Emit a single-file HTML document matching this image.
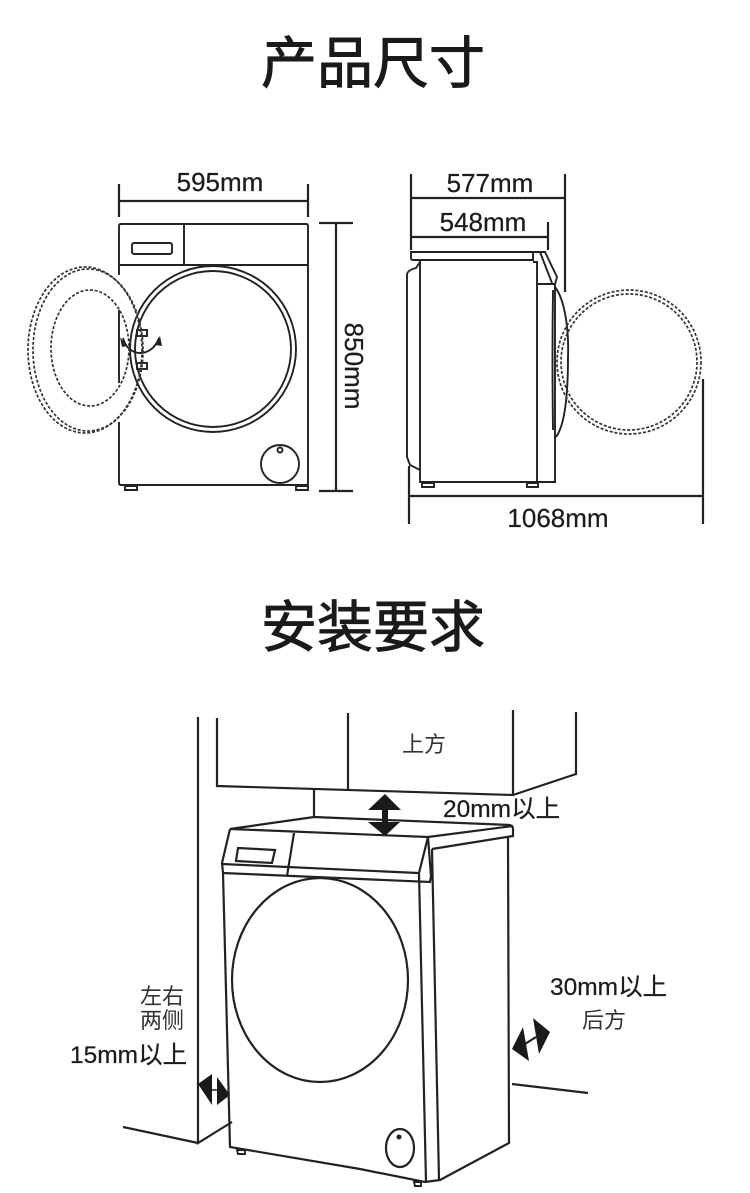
<!DOCTYPE html>
<html><head><meta charset="utf-8">
<style>
html,body{margin:0;padding:0;background:#fff}
svg{display:block;filter:blur(.35px)}
text{fill:#1c1c1c;font-family:"Liberation Sans","Noto Sans CJK SC",sans-serif}
.t{font-size:56px;font-weight:400;fill:#1a1a1a;stroke:#1a1a1a;stroke-width:.9}
.d{font-size:26px;stroke:#1c1c1c;stroke-width:.25}
.c{font-size:22px;fill:#333}
.l{fill:none;stroke:#222;stroke-width:1.9}
.n{fill:none;stroke:#222;stroke-width:2.2}
.h{fill:none;stroke:#333;stroke-width:1.7;stroke-dasharray:3 1.8}
</style></head><body>
<svg width="750" height="1193" viewBox="0 0 750 1193" xmlns="http://www.w3.org/2000/svg">
<rect width="750" height="1193" fill="#fff"/>
<text class="t" x="373" y="83" text-anchor="middle">产品尺寸</text>
<text class="t" x="373" y="647" text-anchor="middle">安装要求</text>

<!-- front view -->
<g class="l">
<path d="M119 275V226Q119 224 121 224H306Q308 224 308 226V483Q308 485 306 485H121Q119 485 119 483V422M119 383V310"/>
<path d="M119 265H308M184 224V265"/>
<rect x="132" y="243" width="40" height="11" rx="2"/>
<circle cx="213" cy="349" r="83"/><circle cx="213" cy="349" r="78"/>
<circle cx="280" cy="464" r="19"/><circle cx="280" cy="450" r="2.5"/>
<path d="M125 486H137V490H125ZM296 486H308V490H296Z"/>
<rect x="137" y="330" width="10" height="6"/><rect x="137" y="363" width="10" height="6"/>
<path d="M123 338C128 358 152 358 159 338"/>
</g>
<path d="M120 337L127 346L122 347ZM160 336L162 346L155 345Z" fill="#222"/>
<ellipse class="h" cx="85" cy="350" rx="57" ry="83"/>
<ellipse class="h" cx="88" cy="350" rx="55" ry="81"/>
<ellipse class="h" cx="90" cy="348" rx="39" ry="58"/>
<path class="n" d="M119 184V217M308 184V217M119 201H308M336 223V491M319 223H353M319 491H353"/>
<text class="d" x="220" y="191" text-anchor="middle">595mm</text>
<text class="d" transform="translate(345,366) rotate(90)" text-anchor="middle">850mm</text>

<!-- side view -->
<g class="l">
<path d="M411 252H533V260H413Q411 260 411 258ZM533 252H545L557 277L555 284H537V262H533"/>
<path d="M540 252L552 283M420 260V482H555V284M537 284V482"/>
<path d="M420 262L416 268Q408 270 407 274V457L410 465L420 470"/>
<path d="M555 287C565 300 569 330 568 357C568 395 565 425 556 437"/>
<path d="M553 290Q552 357 553 430"/>
<path d="M422 483H434V487H422ZM527 483H538V487H527Z"/>
</g>
<circle class="h" cx="629" cy="362" r="72"/><circle class="h" cx="629" cy="362" r="68"/>
<path class="n" d="M411 174V250M565 174V292M411 198H565M411 237H548M548 222V250M409 466V524M703 379V524M409 496H703"/>
<text class="d" x="490" y="192" text-anchor="middle">577mm</text>
<text class="d" x="483" y="231" text-anchor="middle">548mm</text>
<text class="d" x="558" y="527" text-anchor="middle">1068mm</text>

<!-- install -->
<g class="n">
<path d="M198 717V1143L232 1122M123 1127L198 1143"/>
<path d="M217 718V786L513 795V710M513 795L576 774V712M348 713V789M314 789V817"/>
<path d="M230 829L314 817L510 825Q513 826 513 829V836L432 849"/>
<path d="M230 829L428 837L513 826M230 829L222 863L223 873L230 1147L360 1169L425 1182L440 1180L509 1143L508 837"/>
<path d="M222 864L418 873M223 873L430 882L431 876L428 837L419 873L426 1182M432 849L439 1180"/>
<path d="M294 833L287 876"/>
<path d="M238 848L275 850L272 863L236 861Z"/>
<ellipse cx="320" cy="980" rx="88" ry="102"/>
<ellipse cx="400" cy="1148" rx="14" ry="19"/>
<path d="M512 1084L588 1093"/>
</g>
<circle cx="399" cy="1137" r="2.5" fill="#222"/>
<path class="l" d="M237 1150H245V1154H238ZM414 1182H421V1186H415Z"/>
<path d="M385 794L401 810H388V822H400L385 836L368 822H382V810H368Z" fill="#1a1a1a"/>
<path d="M198 1084L212 1074V1105ZM230 1095L217 1077V1105Z" fill="#1a1a1a"/>
<path d="M212 1090H217" stroke="#1a1a1a" stroke-width="1.5"/>
<path d="M512 1049L523 1027L529 1061ZM550 1032L533 1018L539 1054Z" fill="#1a1a1a"/>
<path d="M525 1044L536 1037" stroke="#1a1a1a" stroke-width="2"/>

<text class="c" x="402" y="752">上方</text>
<text class="d" x="443" y="817" style="font-size:24.5px">20mm以上</text>
<text class="c" x="140" y="1004">左右</text>
<text class="c" x="140" y="1028">两侧</text>
<text class="d" x="70" y="1063" style="font-size:24.5px">15mm以上</text>
<text class="d" x="550" y="995" style="font-size:24.5px">30mm以上</text>
<text class="c" x="582" y="1028">后方</text>
</svg>
</body></html>
